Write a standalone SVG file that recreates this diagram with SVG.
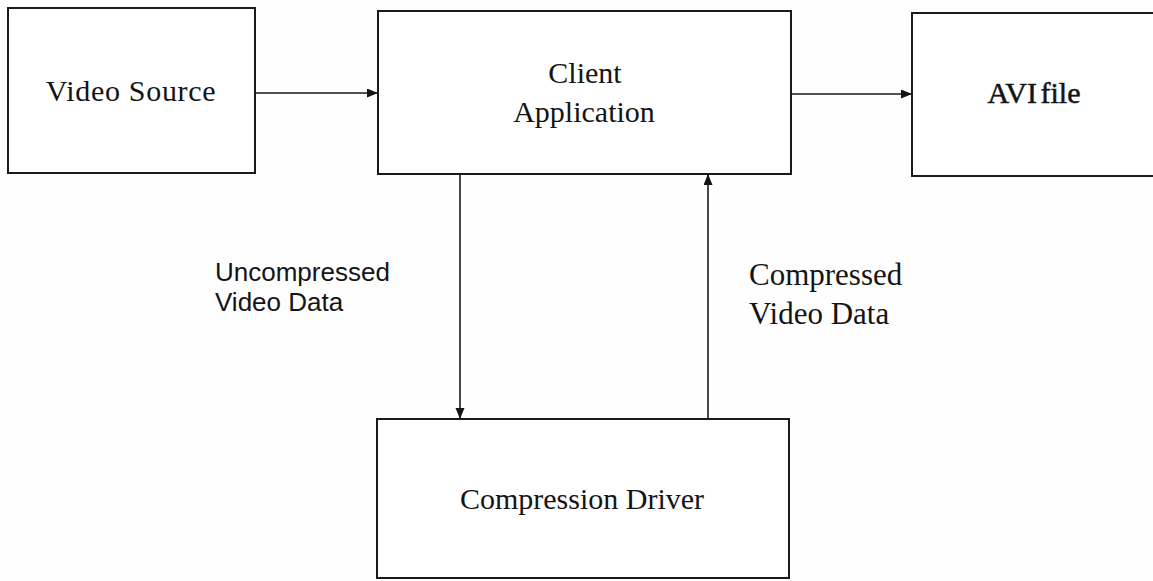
<svg xmlns="http://www.w3.org/2000/svg" width="1153" height="581" viewBox="0 0 1153 581">
  <style>
    .box { fill: #ffffff; stroke: #1a1a1a; stroke-width: 2; }
    .label { font-family: "Liberation Serif", "Times New Roman", serif; font-size: 30px; fill: #141414; text-anchor: middle; }
    .sans { font-family: "Liberation Sans", Arial, sans-serif; font-size: 26px; fill: #141414; }
    .serif { font-family: "Liberation Serif", "Times New Roman", serif; font-size: 31px; fill: #141414; }
    .link { fill: none; stroke: #1a1a1a; stroke-width: 1.6; }
  </style>
  <defs>
    <marker id="head" markerUnits="userSpaceOnUse" markerWidth="12" markerHeight="10" refX="11" refY="4.5" orient="auto">
      <path d="M0,0 L11,4.5 L0,9 Z" fill="#141414"/>
    </marker>
  </defs>

  <rect width="1153" height="581" fill="#fefefe"/>

  <!-- flow lines between the stages -->
  <g id="connectors">
    <line class="link" x1="255" y1="93" x2="378" y2="93" marker-end="url(#head)"/>
    <line class="link" x1="791" y1="94" x2="912" y2="94" marker-end="url(#head)"/>
    <line class="link" x1="460" y1="174" x2="460" y2="419" marker-end="url(#head)"/>
    <line class="link" x1="708" y1="419" x2="708" y2="174" marker-end="url(#head)"/>
    <text class="sans" x="215" y="281">Uncompressed</text>
    <text class="sans" x="215" y="311">Video Data</text>
    <text class="serif" x="749" y="285">Compressed</text>
    <text class="serif" x="749" y="324">Video Data</text>
  </g>

  <g id="video-source">
    <rect class="box" x="8" y="8" width="247" height="165"/>
    <text class="label" x="131" y="101" letter-spacing="0.7">Video Source</text>
  </g>

  <g id="client-application">
    <rect class="box" x="378" y="11" width="413" height="163"/>
    <text class="label" x="585" y="83" font-size="31">Client</text>
    <text class="label" x="584" y="122" font-size="31">Application</text>
  </g>

  <g id="avi-file">
    <rect class="box" x="912" y="13" width="260" height="163"/>
    <text class="label" x="1034" y="103" word-spacing="-4" stroke="#141414" stroke-width="0.5">AVI file</text>
  </g>

  <g id="compression-driver">
    <rect class="box" x="377" y="419" width="412" height="159"/>
    <text class="label" x="582" y="509">Compression Driver</text>
  </g>
</svg>
